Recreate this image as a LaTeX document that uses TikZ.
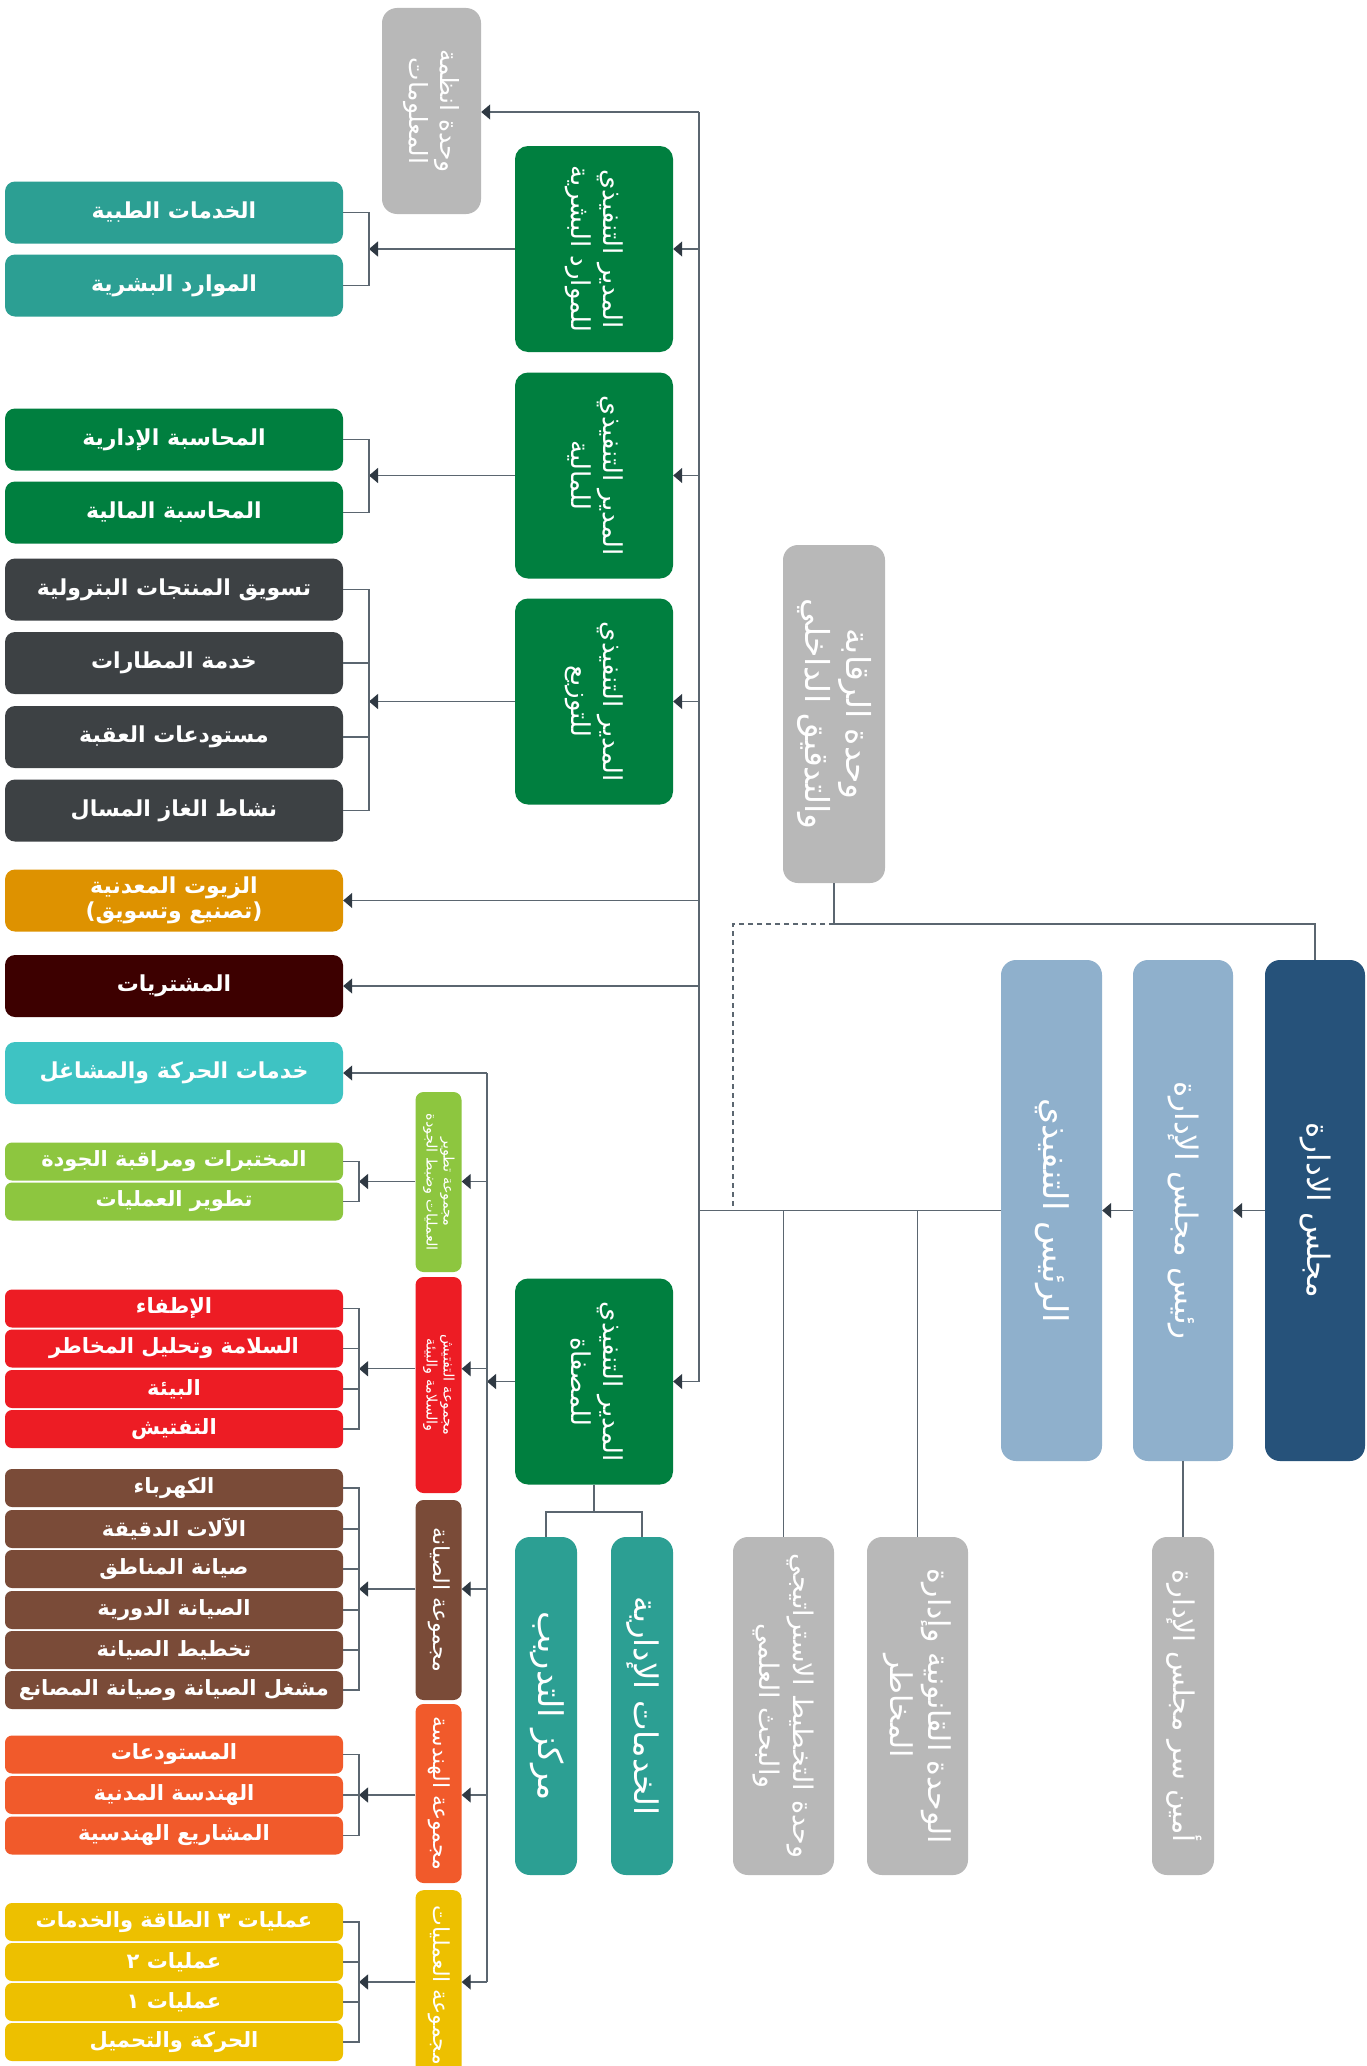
\documentclass[tikz,border=0pt]{standalone}
\usepackage{fontspec}
\usepackage{graphicx}
\usetikzlibrary{arrows.meta,calc}
\newfontfamily\arabicfont[Script=Arabic]{DejaVu Sans}
\TeXXeTstate=1
\newcommand{\ar}[1]{\beginR #1\endR}
\newcommand{\vtxt}[1]{\rotatebox{-90}{\begin{tabular}{@{}c@{}}#1\end{tabular}}}
\definecolor{cexec}{HTML}{007F3F}
\definecolor{cteal}{HTML}{2C9F93}
\definecolor{cdark}{HTML}{3D4144}
\definecolor{coil}{HTML}{DE9200}
\definecolor{cpur}{HTML}{3D0000}
\definecolor{ccyan}{HTML}{3EC3C3}
\definecolor{clgreen}{HTML}{8DC63F}
\definecolor{cred}{HTML}{ED1C24}
\definecolor{cbrown}{HTML}{7A4B38}
\definecolor{corange}{HTML}{F15A2B}
\definecolor{cyellow}{HTML}{EDC000}
\definecolor{cgray}{HTML}{B8B8B8}
\definecolor{cblue}{HTML}{8FB0CC}
\definecolor{cnavy}{HTML}{26527A}
\definecolor{linec}{HTML}{5B6670}
\definecolor{tipc}{HTML}{2F3943}
\tikzset{
  box/.style={rectangle, rounded corners=10pt, inner sep=0pt, text=white, align=center},
  lbox/.style={box, minimum width=338pt, minimum height=62pt, font=\arabicfont\bfseries\fontsize{22}{27}\selectfont},
  sbox/.style={box, rounded corners=7pt, minimum width=338pt, minimum height=38pt, font=\arabicfont\bfseries\fontsize{21}{25}\selectfont},
  execbox/.style={box, rounded corners=13pt, fill=cexec, minimum width=158pt, minimum height=206pt, font=\arabicfont\fontsize{26}{32}\selectfont},
  grpbox/.style={box, rounded corners=8pt, minimum width=46pt, font=\arabicfont\fontsize{22}{26}\selectfont},
  grpsmall/.style={grpbox, font=\arabicfont\fontsize{14.5}{17}\selectfont},
  tallbox/.style={box, rounded corners=15pt, font=\arabicfont\fontsize{31}{38}\selectfont},
  conn/.style={draw=linec, line width=1.3pt},
  arr/.style={conn, -{Triangle[length=9pt,width=15pt,color=tipc]}},
}
\begin{document}
\begin{tikzpicture}[x=1pt,y=-1pt]
\fill[white] (0,0) rectangle (1367,2066);
\useasboundingbox (0,0) rectangle (1367,2066);

% ---- top right: board chain ----
\node[tallbox, fill=cnavy, minimum width=100pt, minimum height=501pt] (board) at (1315,1210.5) {\vtxt{\ar{مجلس الادارة}}};
\node[tallbox, fill=cblue, minimum width=100pt, minimum height=501pt] (chair) at (1183,1210.5) {\vtxt{\ar{رئيس مجلس الإدارة}}};
\node[tallbox, fill=cblue, minimum width=101pt, minimum height=501pt, font=\arabicfont\fontsize{34}{40}\selectfont] (ceo) at (1051.5,1210.5) {\vtxt{\ar{الرئيس التنفيذي}}};
\node[tallbox, fill=cgray, minimum width=102pt, minimum height=338pt, font=\arabicfont\fontsize{33}{41}\selectfont] (ctrl) at (834,714) {\vtxt{\ar{وحدة الرقابة}\\\ar{والتدقيق الداخلي}}};

% bottom gray/teal
\node[tallbox, fill=cgray, minimum width=62pt, minimum height=338pt, font=\arabicfont\fontsize{28.5}{34}\selectfont] (sec) at (1183,1706) {\vtxt{\ar{أمين سر مجلس الإدارة}}};
\node[tallbox, fill=cgray, minimum width=101pt, minimum height=338pt, font=\arabicfont\fontsize{30}{38}\selectfont] (legal) at (917.5,1706) {\vtxt{\ar{الوحدة القانونية وإدارة}\\\ar{المخاطر}}};
\node[tallbox, fill=cgray, minimum width=101pt, minimum height=338pt, font=\arabicfont\fontsize{27}{34}\selectfont] (strat) at (783.5,1706) {\vtxt{\ar{وحدة التخطيط الاستراتيجي}\\\ar{والبحث العلمي}}};
\node[tallbox, fill=cteal, minimum width=62pt, minimum height=338pt, font=\arabicfont\fontsize{32.5}{38}\selectfont] (adm) at (642,1706) {\vtxt{\ar{الخدمات الإدارية}}};
\node[tallbox, fill=cteal, minimum width=62pt, minimum height=338pt, font=\arabicfont\fontsize{34}{40}\selectfont] (train) at (546,1706) {\vtxt{\ar{مركز التدريب}}};

% info systems
\node[tallbox, fill=cgray, minimum width=99pt, minimum height=206pt, font=\arabicfont\fontsize{25}{31}\selectfont] (info) at (431.5,111) {\vtxt{\ar{وحدة انظمة}\\\ar{المعلومات}}};

% exec boxes
\node[execbox] (hrx) at (594,249) {\vtxt{\ar{المدير التنفيذي}\\\ar{للموارد البشرية}}};
\node[execbox] (finx) at (594,475.5) {\vtxt{\ar{المدير التنفيذي}\\\ar{للمالية}}};
\node[execbox] (disx) at (594,701.5) {\vtxt{\ar{المدير التنفيذي}\\\ar{للتوزيع}}};
\node[execbox] (refx) at (594,1381.5) {\vtxt{\ar{المدير التنفيذي}\\\ar{للمصفاة}}};

% left boxes
\node[lbox, fill=cteal] (med) at (174,212.5) {\ar{الخدمات الطبية}};
\node[lbox, fill=cteal] (hrs) at (174,285.5) {\ar{الموارد البشرية}};
\node[lbox, fill=cexec] (macc) at (174,439.5) {\ar{المحاسبة الإدارية}};
\node[lbox, fill=cexec] (facc) at (174,512.5) {\ar{المحاسبة المالية}};
\node[lbox, fill=cdark] (pet) at (174,589.5) {\ar{تسويق المنتجات البترولية}};
\node[lbox, fill=cdark] (air) at (174,663) {\ar{خدمة المطارات}};
\node[lbox, fill=cdark] (aqa) at (174,737) {\ar{مستودعات العقبة}};
\node[lbox, fill=cdark] (lpg) at (174,810.5) {\ar{نشاط الغاز المسال}};
\node[lbox, fill=coil, font=\arabicfont\bfseries\fontsize{22}{25}\selectfont] (oil) at (174,900.5) {\ar{الزيوت المعدنية}\\\ar{(تصنيع وتسويق)}};
\node[lbox, fill=cpur] (pur) at (174,986) {\ar{المشتريات}};
\node[lbox, fill=ccyan] (mov) at (174,1073) {\ar{خدمات الحركة والمشاغل}};

\node[sbox, fill=clgreen] (lab) at (174,1161.5) {\ar{المختبرات ومراقبة الجودة}};
\node[sbox, fill=clgreen] (odev) at (174,1201.5) {\ar{تطوير العمليات}};

\node[sbox, fill=cred] (fire) at (174,1308.5) {\ar{الإطفاء}};
\node[sbox, fill=cred] (safe) at (174,1348.5) {\ar{السلامة وتحليل المخاطر}};
\node[sbox, fill=cred] (env) at (174,1389) {\ar{البيئة}};
\node[sbox, fill=cred] (insp) at (174,1429) {\ar{التفتيش}};

\node[sbox, fill=cbrown] (elec) at (174,1488) {\ar{الكهرباء}};
\node[sbox, fill=cbrown] (prec) at (174,1529) {\ar{الآلات الدقيقة}};
\node[sbox, fill=cbrown] (area) at (174,1569) {\ar{صيانة المناطق}};
\node[sbox, fill=cbrown] (peri) at (174,1610) {\ar{الصيانة الدورية}};
\node[sbox, fill=cbrown] (plan) at (174,1650) {\ar{تخطيط الصيانة}};
\node[sbox, fill=cbrown] (shop) at (174,1690) {\ar{مشغل الصيانة وصيانة المصانع}};

\node[sbox, fill=corange] (dep) at (174,1754.5) {\ar{المستودعات}};
\node[sbox, fill=corange] (civ) at (174,1795) {\ar{الهندسة المدنية}};
\node[sbox, fill=corange] (proj) at (174,1835.5) {\ar{المشاريع الهندسية}};

\node[sbox, fill=cyellow] (op3) at (174,1922) {\ar{عمليات ٣ الطاقة والخدمات}};
\node[sbox, fill=cyellow] (op2) at (174,1962) {\ar{عمليات ٢}};
\node[sbox, fill=cyellow] (op1) at (174,2002) {\ar{عمليات ١}};
\node[sbox, fill=cyellow] (load) at (174,2042) {\ar{الحركة والتحميل}};

% group boxes
\node[grpsmall, fill=clgreen, minimum height=180pt] (gq) at (438.5,1182) {\vtxt{\ar{مجموعة تطوير}\\\ar{العمليات وضبط الجودة}}};
\node[grpsmall, fill=cred, minimum height=216pt] (gs) at (438.5,1385) {\vtxt{\ar{مجموعة التفتيش}\\\ar{والسلامة والبيئة}}};
\node[grpbox, fill=cbrown, minimum height=200pt] (gm) at (438.5,1600) {\vtxt{\ar{مجموعة الصيانة}}};
\node[grpbox, fill=corange, minimum height=179pt] (ge) at (438.5,1793.5) {\vtxt{\ar{مجموعة الهندسة}}};
\node[grpbox, fill=cyellow, minimum height=190pt, anchor=north] (go) at (438.5,1890) {\vtxt{\ar{مجموعة العمليات}}};

% ---- coordinates ----
\coordinate (mtop) at (699,112);
\coordinate (mbot) at (699,1381.5);
\coordinate (s2) at (487,1073);
\coordinate (brA) at (369,0);
\coordinate (brB) at (359,0);
\coordinate (cj) at (834,924);
\coordinate (dj) at (733,924);
\coordinate (rj) at (594,1512);

% ---- board chain ----
\draw[arr] (board.west) -- (chair.east);
\draw[arr] (chair.west) -- (ceo.east);
\draw[conn] (ceo.west) -- (ceo.west -| mtop);
\draw[conn] (strat.north |- ceo.west) -- (strat.north);
\draw[conn] (legal.north |- ceo.west) -- (legal.north);
\draw[conn] (chair.south) -- (sec.north);
\draw[conn] (ctrl.south) -- (cj) -| (board.north);
\draw[conn, dash pattern=on 5pt off 4pt] (cj) -- (dj) -- (dj |- ceo.west);

% ---- main vertical ----
\draw[conn] (mtop) -- (mbot);
\draw[arr] (mtop) -- (mtop -| info.east);
\draw[arr] (hrx.east -| mtop) -- (hrx.east);
\draw[arr] (finx.east -| mtop) -- (finx.east);
\draw[arr] (disx.east -| mtop) -- (disx.east);
\draw[arr] (mbot) -- (mbot -| refx.east);
\draw[arr] (oil.east -| mtop) -- (oil.east);
\draw[arr] (pur.east -| mtop) -- (pur.east);

% exec brackets
\draw[arr] (hrx.west) -- (hrx.west -| brA);
\draw[conn] (med.east) -- (med.east -| brA) -- (hrs.east -| brA) -- (hrs.east);
\draw[arr] (finx.west) -- (finx.west -| brA);
\draw[conn] (macc.east) -- (macc.east -| brA) -- (facc.east -| brA) -- (facc.east);
\draw[arr] (disx.west) -- (disx.west -| brA);
\draw[conn] (pet.east) -- (pet.east -| brA) -- (lpg.east -| brA) -- (lpg.east);
\draw[conn] (air.east) -- (air.east -| brA);
\draw[conn] (aqa.east) -- (aqa.east -| brA);

% refinery
\draw[conn] (refx.south) -- (rj);
\draw[conn] (train.north) |- (rj) -| (adm.north);
\draw[arr] (refx.west) -- (refx.west -| s2);

% second vertical line and groups
\coordinate (mq) at ($(lab.east)!0.5!(odev.east)$);
\coordinate (ms) at ($(fire.east)!0.5!(insp.east)$);
\coordinate (mm) at ($(elec.east)!0.5!(shop.east)$);
\coordinate (me) at ($(dep.east)!0.5!(proj.east)$);
\coordinate (mo) at ($(op3.east)!0.5!(load.east)$);
\draw[conn] (s2) -- (s2 |- mo);
\draw[arr] (s2) -- (mov.east);
\foreach \m/\g in {mq/gq, ms/gs, mm/gm, me/ge, mo/go}{
  \draw[arr] (\m -| s2) -- (\m -| \g.east);
  \draw[arr] (\m -| \g.west) -- (\m -| brB);
}
\draw[conn] (lab.east) -- (lab.east -| brB) -- (odev.east -| brB) -- (odev.east);
\draw[conn] (fire.east) -- (fire.east -| brB) -- (insp.east -| brB) -- (insp.east);
\foreach \n in {safe, env}{\draw[conn] (\n.east) -- (\n.east -| brB);}
\draw[conn] (elec.east) -- (elec.east -| brB) -- (shop.east -| brB) -- (shop.east);
\foreach \n in {prec, area, peri, plan}{\draw[conn] (\n.east) -- (\n.east -| brB);}
\draw[conn] (dep.east) -- (dep.east -| brB) -- (proj.east -| brB) -- (proj.east);
\draw[conn] (civ.east) -- (civ.east -| brB);
\draw[conn] (op3.east) -- (op3.east -| brB) -- (load.east -| brB) -- (load.east);
\foreach \n in {op2, op1}{\draw[conn] (\n.east) -- (\n.east -| brB);}
\end{tikzpicture}
\end{document}
